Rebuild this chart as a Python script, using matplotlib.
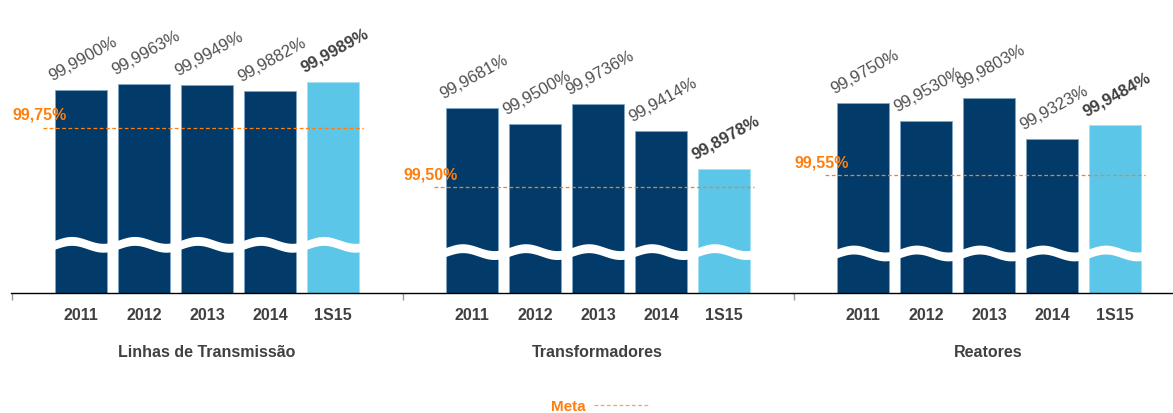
import numpy as np
import matplotlib
matplotlib.use("Agg")
import matplotlib.pyplot as plt
from matplotlib.lines import Line2D

plt.rcParams['font.family'] = ['Liberation Sans', 'DejaVu Sans']

# data
periods = ['2011', '2012', '2013', '2014', '1S15']
groups = ['Linhas de Transmissão', 'Transformadores', 'Reatores']
linhas = [99.9900, 99.9963, 99.9949, 99.9882, 99.9989]
transformadores = [99.9681, 99.9500, 99.9736, 99.9414, 99.8978]
reatores = [99.9750, 99.9530, 99.9803, 99.9323, 99.9484]
metas = [99.75, 99.50, 99.55]
meta_labels = ['99,75%', '99,50%', '99,55%']

series = [linhas, transformadores, reatores]

NAVY = '#023b69'
LIGHT = '#5bc6e8'
ORANGE = '#ff7f0e'
GREY_TXT = '#505050'
DARK_TXT = '#404040'

# broken value axis (bars) and separate scale for the target line
Y_LIM = (99.7527, 100.0958)
META_LIM = (99.0565, 100.2887)
BREAK_AT = [99.8095, 99.8010, 99.7994]
X_LIM = (-1.111, 5.095)


def fmt(v):
    return f'{v:.4f}'.replace('.', ',') + '%'


W, H = 1173, 414
fig = plt.figure(figsize=(W / 100, H / 100), dpi=100)

for k, (name, vals) in enumerate(zip(groups, series)):
    left = (11 + 391 * k) / W
    ax = fig.add_axes([left, (H - 294) / H, 391 / W, 294 / H])
    x = np.arange(len(periods))
    colors = [NAVY] * 4 + [LIGHT]
    edges = ['#7fa6c8'] * 4 + ['#a6e0f3']
    ax.bar(x, np.array(vals) - Y_LIM[0], bottom=Y_LIM[0], width=0.84,
           color=colors, edgecolor=edges, linewidth=0.6, zorder=2)
    ax.set_ylim(*Y_LIM)
    ax.set_xlim(*X_LIM)

    # wavy white band marking the axis break
    xx = np.linspace(X_LIM[0], X_LIM[1], 600)
    wave = 0.004 * np.cos(2 * np.pi * (xx + 0.15))
    ax.fill_between(xx, BREAK_AT[k] - 0.0052 + wave, BREAK_AT[k] + 0.0052 + wave,
                    color='white', lw=0, zorder=3)

    # value labels
    for i, v in enumerate(vals):
        last = i == len(vals) - 1
        ax.annotate(fmt(v), xy=(i, v), xytext=(-21, 7), textcoords='offset points',
                    rotation=29, rotation_mode='anchor', ha='left', va='baseline',
                    fontsize=12, color=DARK_TXT if last else GREY_TXT,
                    fontweight='bold' if last else 'normal', zorder=4)

    for s in ['top', 'right', 'left']:
        ax.spines[s].set_visible(False)
    ax.spines['bottom'].set_color('black')
    ax.spines['bottom'].set_linewidth(1.0)
    ax.set_yticks([])
    ax.set_xticks(x)
    ax.set_xticklabels(periods, fontsize=11.5, fontweight='bold', color=DARK_TXT)
    ax.tick_params(axis='x', which='major', length=0, pad=10)
    ax.set_xticks([X_LIM[0] + 0.01], minor=True)
    ax.tick_params(axis='x', which='minor', length=5, color='#999999', width=1)
    ax.set_xlabel(name, fontsize=11.5, fontweight='bold', color=DARK_TXT, labelpad=16)

    # target line on its own scale
    ax2 = ax.twinx()
    ax2.set_ylim(*META_LIM)
    ax2.set_xlim(*X_LIM)
    ax2.axis('off')
    ax2.hlines(metas[k], -0.6, 4.48, colors=ORANGE, linestyles=(0, (3, 2)),
               linewidth=0.9, zorder=5)
    ax2.annotate(meta_labels[k], xy=(X_LIM[0], metas[k]), xytext=(1, 4),
                 textcoords='offset points', ha='left', va='bottom',
                 fontsize=11.5, fontweight='bold', color=ORANGE)

handle = Line2D([], [], color='#f7a35c', linestyle=(0, (3, 2)), linewidth=0.9)
leg = fig.legend([handle], ['Meta'], loc='center', bbox_to_anchor=(600 / W, 1 - 407 / H),
                 frameon=False, markerfirst=False, handlelength=3.6, handletextpad=0.5,
                 prop={'size': 11, 'weight': 'bold'})
for t in leg.get_texts():
    t.set_color(ORANGE)

fig.savefig('out.png', dpi=100)
